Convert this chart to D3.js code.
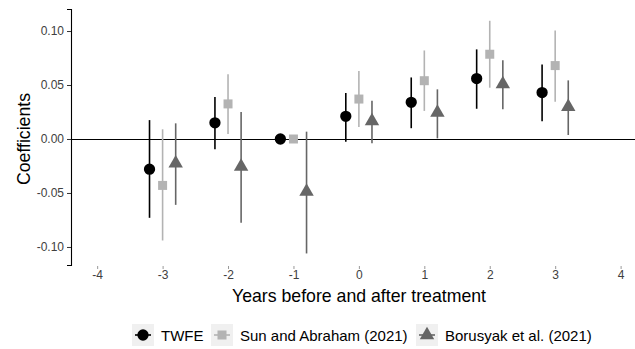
<!DOCTYPE html>
<html>
<head>
<meta charset="utf-8">
<script src="https://cdn.jsdelivr.net/npm/d3@7"></script>
<style>
  body { margin: 0; background: #fff; }
  text { font-family: "Liberation Sans", Arial, sans-serif; }
</style>
</head>
<body>
<svg width="635" height="349"></svg>
<script>
// event time
var years = [-3, -2, -1, 0, 1, 2, 3];
var xTicks = [-4, -3, -2, -1, 0, 1, 2, 3, 4];
var yTicks = [-0.10, -0.05, 0.00, 0.05, 0.10];

// TWFE
var twfeEst = [-0.028, 0.015, 0, 0.021, 0.034, 0.056, 0.043];
var twfeLo  = [-0.073, -0.0095, null, -0.0025, 0.010, 0.028, 0.0165];
var twfeHi  = [0.0175, 0.039, null, 0.0425, 0.057, 0.083, 0.069];

// Sun and Abraham (2021)
var saEst = [-0.043, 0.0325, 0, 0.037, 0.054, 0.0785, 0.068];
var saLo  = [-0.094, 0.0047, null, 0.011, 0.026, 0.0475, 0.0345];
var saHi  = [0.009, 0.060, null, 0.063, 0.082, 0.1095, 0.1006];

// Borusyak et al. (2021)
var bjsEst = [-0.0225, -0.0256, -0.0488, 0.0167, 0.0244, 0.0509, 0.0299];
var bjsLo  = [-0.061, -0.0775, -0.106, -0.004, 0.0006, 0.0275, 0.0037];
var bjsHi  = [0.0145, 0.025, 0.0068, 0.0355, 0.046, 0.0729, 0.0543];

var series = [
  { name: "TWFE", est: twfeEst, lo: twfeLo, hi: twfeHi, dx: -0.2, color: "#000000", shape: d3.symbolCircle, size: 100 },
  { name: "Sun and Abraham (2021)", est: saEst, lo: saLo, hi: saHi, dx: 0, color: "#b3b3b3", shape: d3.symbolSquare, size: 81 },
  { name: "Borusyak et al. (2021)", est: bjsEst, lo: bjsLo, hi: bjsHi, dx: 0.2, color: "#666666", shape: d3.symbolTriangle, size: 90 }
];

var svg = d3.select("svg");

var x = d3.scaleLinear().domain([-4.4, 4.22]).range([71, 635]);
var y = d3.scaleLinear().domain([-0.1167, 0.1204]).range([265, 9]);

// y axis
var yAxis = svg.append("g")
  .attr("transform", "translate(71,0)")
  .call(d3.axisLeft(y).tickValues(yTicks).tickSize(4).tickPadding(3));
yAxis.select(".domain").attr("stroke", "#000").attr("stroke-width", 1.1);
yAxis.selectAll(".tick line").attr("stroke", "#333");
yAxis.selectAll(".tick text").attr("font-size", 12).attr("fill", "#404040")
  .text(function (d) { return d3.format(".2f")(d).replace("−", "-"); });

// x axis, no line
var xAxis = svg.append("g")
  .attr("transform", "translate(0,265)")
  .call(d3.axisBottom(x).tickValues(xTicks).tickSize(3).tickPadding(2));
xAxis.select(".domain").remove();
xAxis.selectAll(".tick line").attr("stroke", "#999").attr("transform", "translate(0,1)");
xAxis.selectAll(".tick text").attr("font-size", 12).attr("fill", "#404040")
  .text(function (d) { return String(d); });

// zero line
svg.append("line")
  .attr("x1", 71).attr("x2", 635)
  .attr("y1", Math.round(y(0)) + 0.5).attr("y2", Math.round(y(0)) + 0.5)
  .attr("stroke", "#000").attr("stroke-width", 1.1);

// error bars and points
series.forEach(function (s) {
  var g = svg.append("g");
  var rows = years.map(function (yr, i) {
    return { x: yr + s.dx, est: s.est[i], lo: s.lo[i], hi: s.hi[i] };
  });
  g.selectAll("line")
    .data(rows.filter(function (d) { return d.lo !== null; }))
    .enter().append("line")
    .attr("x1", function (d) { return x(d.x); })
    .attr("x2", function (d) { return x(d.x); })
    .attr("y1", function (d) { return y(d.lo); })
    .attr("y2", function (d) { return y(d.hi); })
    .attr("stroke", s.color)
    .attr("stroke-width", 1.6);
  g.selectAll("path")
    .data(rows)
    .enter().append("path")
    .attr("transform", function (d) { return "translate(" + x(d.x) + "," + y(d.est) + ")"; })
    .attr("d", d3.symbol().type(s.shape).size(s.size))
    .attr("fill", s.color);
});

// axis titles
svg.append("text")
  .attr("x", 359).attr("y", 302)
  .attr("text-anchor", "middle")
  .attr("font-size", 17.7)
  .attr("fill", "#000")
  .text("Years before and after treatment");

svg.append("text")
  .attr("transform", "translate(30,139) rotate(-90)")
  .attr("text-anchor", "middle")
  .attr("font-size", 17.7)
  .attr("fill", "#000")
  .text("Coefficients");

// legend
var legendX = [132, 211, 416];
var legend = svg.append("g");
series.forEach(function (s, i) {
  var lg = legend.append("g").attr("transform", "translate(" + legendX[i] + ",324)");
  lg.append("rect").attr("width", 22).attr("height", 22).attr("fill", "#f0f0f0");
  lg.append("line").attr("x1", 3).attr("x2", 19).attr("y1", 11).attr("y2", 11)
    .attr("stroke", s.color).attr("stroke-width", 1.6);
  lg.append("path").attr("transform", "translate(11,11)")
    .attr("d", d3.symbol().type(s.shape).size(s.size))
    .attr("fill", s.color);
  lg.append("text").attr("x", 29).attr("y", 16.5)
    .attr("font-size", 15).attr("fill", "#000")
    .text(s.name);
});
</script>
</body>
</html>
